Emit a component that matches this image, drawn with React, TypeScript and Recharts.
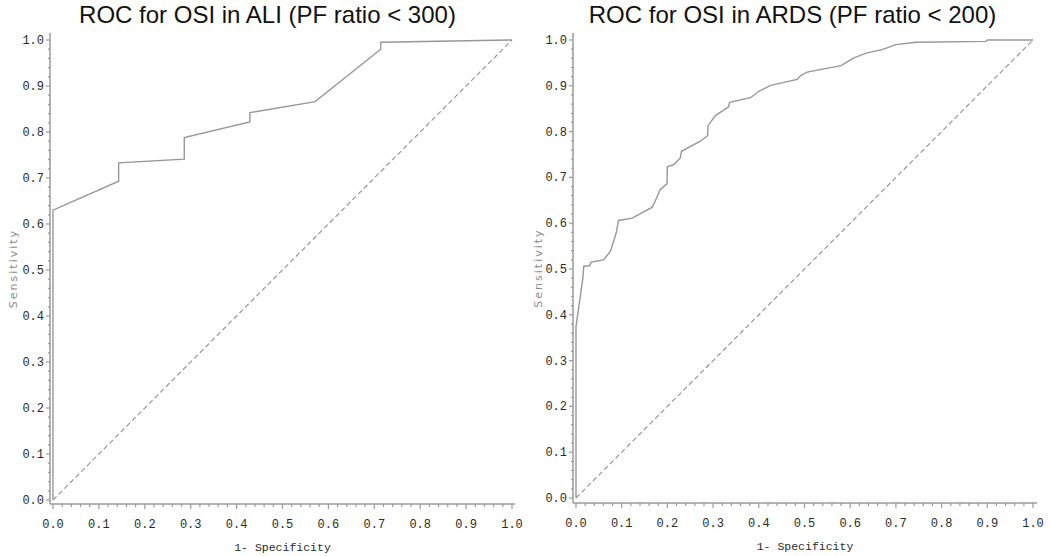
import { LineChart, Line, XAxis, YAxis } from 'recharts';

// ROC points
const aliFpr = [0, 0, 0.143, 0.143, 0.286, 0.286, 0.429, 0.429, 0.571, 0.714, 0.714, 1];
const aliTpr = [0, 0.63, 0.693, 0.733, 0.741, 0.788, 0.822, 0.842, 0.866, 0.98, 0.995, 1];

const ardsFpr = [
    0, 0, 0.015, 0.017, 0.03, 0.033, 0.06, 0.075, 0.088, 0.093, 0.123, 0.167, 0.178, 0.184,
    0.199, 0.2, 0.214, 0.228, 0.231, 0.272, 0.288, 0.289, 0.305, 0.334, 0.336, 0.382, 0.4,
    0.426, 0.484, 0.491, 0.506, 0.58, 0.608, 0.637, 0.67, 0.7, 0.743, 0.897, 0.9, 1
];
const ardsTpr = [
    0, 0.374, 0.48, 0.506, 0.507, 0.515, 0.52, 0.538, 0.579, 0.606, 0.611, 0.635, 0.659, 0.673,
    0.686, 0.723, 0.728, 0.742, 0.757, 0.779, 0.791, 0.813, 0.835, 0.854, 0.864, 0.874, 0.888,
    0.901, 0.914, 0.922, 0.93, 0.944, 0.961, 0.972, 0.979, 0.99, 0.995, 0.997, 1, 1
];

const refLine = [0, 1];

// ticks every 0.02, labels on every 0.1
const tickValues = Array.from({ length: 51 }, (_, i) => i / 50);

const MONO = '"Liberation Mono", "DejaVu Sans Mono", monospace';
const AXIS_COLOR = '#9a9a9a';
const CURVE_COLOR = '#979797';

const isMajor = (v: number) => Math.abs(v * 10 - Math.round(v * 10)) < 1e-6;

const XTick = (props: any) => {
    const { x, y, payload } = props;
    const major = isMajor(payload.value);
    return (
        <g>
            <line x1={x} y1={y} x2={x} y2={y + (major ? 5 : 3)} stroke={AXIS_COLOR} strokeWidth={1.2} />
            {major && (
                <text x={x} y={y + 24} textAnchor="middle" fontFamily={MONO} fontSize={12} fill="#2a2a2a">
                    {payload.value.toFixed(1)}
                </text>
            )}
        </g>
    );
};

const YTick = (props: any) => {
    const { x, y, payload } = props;
    const major = isMajor(payload.value);
    return (
        <g>
            <line x1={x - (major ? 4 : 2)} y1={y} x2={x} y2={y} stroke={AXIS_COLOR} strokeWidth={1.2} />
            {major && (
                <text x={x - 6} y={y + 4} textAnchor="end" fontFamily={MONO} fontSize={12} fill="#2a2a2a">
                    {payload.value.toFixed(1)}
                </text>
            )}
        </g>
    );
};

const xLabel = (props: any) => {
    const { viewBox } = props;
    return (
        <text x={viewBox.x + viewBox.width / 2} y={viewBox.y + 47} textAnchor="middle"
            fontFamily={MONO} fontSize={11.5} fill="#2a2a2a">
            1- Specificity
        </text>
    );
};

const yLabel = (props: any) => {
    const { viewBox } = props;
    const cx = viewBox.x + 13;
    const cy = viewBox.y + viewBox.height / 2;
    return (
        <text x={cx} y={cy} textAnchor="middle" dominantBaseline="central"
            transform={`rotate(-90, ${cx}, ${cy})`}
            fontFamily='"DejaVu Sans", sans-serif' fontSize={11} letterSpacing={2} fill="#8a8a8a">
            Sensitivity
        </text>
    );
};

interface RocProps {
    title: string;
    fpr: number[];
    tpr: number[];
    yWidth: number;
    right: number;
    xPad: { left: number; right: number };
    yPad: { top: number; bottom: number };
    xHeight: number;
}

function RocPanel({ title, fpr, tpr, yWidth, right, xPad, yPad, xHeight }: RocProps) {
    const curve = fpr.map((x, i) => ({ x, y: tpr[i] }));
    const diag = refLine.map((v) => ({ x: v, y: v }));
    return (
        <div style={{ position: 'relative', width: 525, height: 556 }}>
            <div style={{
                position: 'absolute', top: 1, left: 5, width: 525, textAlign: 'center',
                fontFamily: '"Liberation Sans", Arial, sans-serif', fontSize: 24, lineHeight: '27px',
                color: '#111', whiteSpace: 'nowrap'
            }}>
                {title}
            </div>
            <LineChart width={525} height={556} margin={{ top: 33, right, bottom: 0, left: 0 }}>
                <XAxis dataKey="x" type="number" domain={[0, 1]} ticks={tickValues} interval={0}
                    padding={xPad} height={xHeight} tickSize={0} tickMargin={0} tickLine={false}
                    tick={<XTick />} axisLine={{ stroke: AXIS_COLOR, strokeWidth: 1.5 }} label={xLabel} />
                <YAxis dataKey="y" type="number" domain={[0, 1]} ticks={tickValues} interval={0}
                    padding={yPad} width={yWidth} tickSize={0} tickMargin={0} tickLine={false}
                    tick={<YTick />} axisLine={{ stroke: AXIS_COLOR, strokeWidth: 1.5 }} label={yLabel} />
                <XAxis xAxisId="top" orientation="top" type="number" domain={[0, 1]} height={0}
                    tick={false} tickLine={false} axisLine={{ stroke: AXIS_COLOR, strokeWidth: 1.5 }} />
                <YAxis yAxisId="right" orientation="right" type="number" domain={[0, 1]} width={0}
                    tick={false} tickLine={false} axisLine={{ stroke: AXIS_COLOR, strokeWidth: 1.5 }} />
                <Line data={diag} dataKey="y" type="linear" stroke="#8f8f8f" strokeWidth={1.1}
                    strokeDasharray="5 3" dot={false} isAnimationActive={false} />
                <Line data={curve} dataKey="y" type="linear" stroke={CURVE_COLOR} strokeWidth={1.4}
                    dot={false} isAnimationActive={false} />
            </LineChart>
        </div>
    );
}

export default function App() {
    return (
        <div style={{ position: 'absolute', left: 0, top: 0, width: 1050, height: 556, background: '#fff', display: 'flex' }}>
            <RocPanel title="ROC for OSI in ALI (PF ratio < 300)" fpr={aliFpr} tpr={aliTpr}
                yWidth={50} right={10} xPad={{ left: 3, right: 3 }} yPad={{ top: 7, bottom: 4 }} xHeight={52} />
            <RocPanel title="ROC for OSI in ARDS (PF ratio < 200)" fpr={ardsFpr} tpr={ardsTpr}
                yWidth={48} right={13} xPad={{ left: 3, right: 4 }} yPad={{ top: 7, bottom: 5 }} xHeight={53} />
        </div>
    );
}
